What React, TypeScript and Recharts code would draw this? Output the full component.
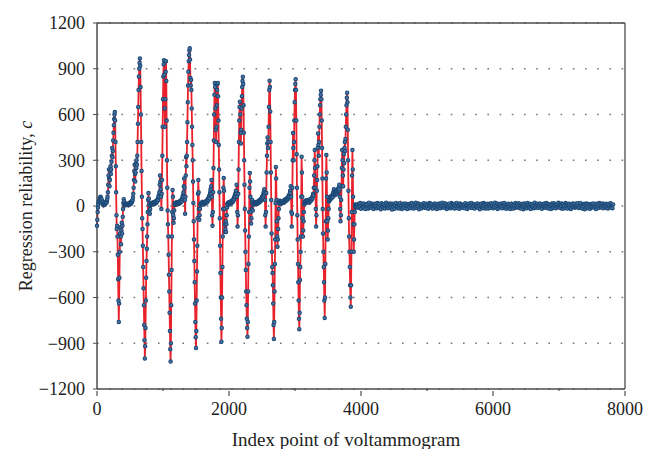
import React from 'react';
import { LineChart, Line, XAxis, YAxis, CartesianGrid, ReferenceLine } from 'recharts';

// Regression reliability sampled every 5 index points over the active part
// of the voltammogram, one array per oxidation/reduction cycle.
const cycle1 = [
  -130, -90, -40, -10, 10, 25, 35, 30, 45, 55, 40, 60, 50, 35, 45, 30, 20, 25, 10, 15,
  5, 12, 8, 15, 10, 20, 18, 25, 30, 22, 35, 45, 60, 90, 140, 200, 240, 180, 130, 170,
  230, 260, 210, 240, 290, 330, 380, 320, 360, 430, 480, 530, 570, 600, 616, 560, 420, 260, 90, -60,
  -150, -130, -200, -320, -480, -620, -760, -640, -470, -300, -180, -140, -200, -250, -160, -110, -180, -130, -70, -20,
  20, 45, 30, 10, 15, 5, 12, 8, 14, 10, 6, 15, 10, 12,
];
const cycle2 = [
  10, 5, 15, 8, 12, 20, 14, 18, 25, 15, 22, 30, 26, 35, 40, 55, 80, 120, 170, 230,
  270, 210, 160, 220, 280, 250, 300, 270, 330, 420, 540, 650, 760, 850, 900, 940, 968, 920, 780, 600,
  420, 230, 60, -80, -150, -260, -400, -540, -650, -780, -880, -1000, -920, -800, -620, -470, -360, -280, -200, -120,
  -40, 40, 85, 50, 10, -30, -50, -20, 5, 15, 10, 20, 12, 18, 22, 15,
];
const cycle3 = [
  18, 10, 25, 15, 20, 28, 16, 24, 30, 20, 26, 35, 28, 40, 45, 38, 55, 70, 60, 90,
  140, 200, 160, 110, 60, -20, 80, 170, 330, 520, 700, 850, 930, 955, 860, 640, 520, 700, 880, 950,
  820, 560, 300, 120, -30, -120, -200, -320, -450, -560, -700, -820, -940, -1020, -900, -650, -420, -200, -40, 105,
  60, -60, -110, -80, -30, 10, 20, 8, 15, 22, 12, 18, 25, 14,
];
const cycle4 = [
  20, 12, 18, 26, 15, 22, 30, 20, 28, 35, 25, 32, 40, 30, 45, 55, 70, 60, 90, 130,
  180, 120, 40, -50, 60, 200, 320, 260, 330, 420, 550, 680, 790, 880, 950, 990, 1020, 1034, 960, 840,
  790, 826, 760, 640, 520, 400, 300, 160, 20, -100, -220, -360, -500, -640, -760, -860, -931, -820, -620, -430,
  -260, -80, 80, 170, 90, -20, -90, -60, -20, 10, 5, 15, 22, 12, 18, 25, 15, 20,
];
const cycle5 = [
  14, 22, 10, 18, 26, 16, 24, 30, 20, 28, 35, 25, 38, 30, 42, 50, 40, 55, 65, 50,
  75, 90, 110, 80, 130, 170, 60, -60, -130, -40, 90, 250, 430, 600, 730, 806, 780, 640, 500, 420,
  520, 660, 760, 800, 806, 720, 560, 400, 240, 90, -80, -260, -440, -600, -740, -890, -800, -600, -400, -200,
  -20, 120, 183, 100, -20, -120, -170, -150, -100, -170, -120, -60, -10, 15, 8, 20, 12, 25, 18, 10,
];
const cycle6 = [
  22, 15, 28, 18, 24, 32, 20, 30, 36, 26, 40, 32, 45, 55, 42, 60, 75, 58, 85, 100,
  80, 140, 60, -40, -135, -60, 80, 240, 420, 560, 650, 684, 600, 480, 410, 500, 640, 720, 780, 820,
  848, 800, 660, 480, 300, 140, -20, -160, -300, -420, -560, -650, -740, -800, -857, -760, -560, -380, -200, -40,
  120, 216, 160, 60, -40, -115, -80, -20, 40, 20, -30, 10, 25, 15, 20, 10, 18, 26, 14, 22,
  16, 24,
];
const cycle7 = [
  18, 26, 14, 22, 30, 20, 28, 36, 24, 32, 40, 30, 44, 36, 50, 42, 58, 48, 65, 55,
  75, 90, 70, 110, 85, 40, -60, -135, -40, 85, 220, 330, 410, 450, 380, 420, 520, 650, 760, 822,
  780, 620, 420, 220, 40, -180, -300, -400, -440, -520, -640, -780, -872, -760, -560, -380, -220, 20, 256, 180,
  40, -100, -200, -267, -220, -150, -80, -20, 20, 35, 15, 28, 20, 32, 24, 18, 30, 22, 28, 20,
];
const cycle8 = [
  26, 34, 22, 30, 38, 28, 36, 44, 32, 40, 48, 38, 50, 42, 56, 48, 62, 54, 70, 60,
  80, 100, 85, 130, 60, -40, -135, -50, 120, 300, 478, 380, 300, 420, 560, 680, 760, 800, 831, 760,
  560, 340, 120, -60, -220, -380, -500, -620, -740, -808, -700, -485, -400, -300, -200, 60, 323, 220, 60, -80,
  -200, -160, -100, -40, 10, 30, 18, 26, 34, 22, 30, 38, 26, 34, 28, 40, 30, 36,
];
const cycle9 = [
  30, 22, 34, 42, 30, 38, 46, 36, 50, 44, 58, 50, 66, 80, 70, 120, 200, 300, 367, 250,
  120, -20, -135, -60, 100, 170, 260, 380, 475, 400, 330, 420, 520, 600, 660, 700, 730, 756, 700, 560,
  380, 180, -20, -180, -300, -400, -500, -620, -734, -600, -380, -100, 180, 334, 220, 60, -100, -220, -160, -80,
  -20, 30, 50, 38, 56, 44, 60, 48, 66, 54, 62, 70, 58, 76, 90, 80, 110, 95,
];
const cycle10 = [
  85, 70, 92, 78, 100, 86, 95, 80, 105, 90, 110, 95, 120, 100, 140, 110, 60, -20, -100, -60,
  40, 130, 250, 367, 300, 200, 130, 240, 340, 280, 380, 420, 360, 440, 520, 600, 660, 710, 743, 680,
  500, 300, 100, -80, -200, -300, -400, -520, -600, -660, -520, -300, -40, 200, 367, 240, 60, -120, -300, -220,
  -120, -40, 10, -10, 6, -8, 5, -6, 8, -4,
];

// Quiet tail after the last cycle, sampled every 10 index points.
const baselineNoise = [
  8, -12, 15, -5, 20, -18, 3, 11, -9, 17, -14, 6, -20, 13, -3, 9, -16, 22, -7, 4,
  -11, 16, -2, 10, -19, 7, 14, -8, 1, -15, 19, -6, 12, -13, 5, -21, 18, -4, 9, -10,
  13, -17, 2, 21, -9, 6, -14, 11, -1, 16, -12, 8, -23, 15, -5, 10, -18, 4, 20, -7,
  -3, 12, -16, 7, 18, -11, 1, -20, 14, -6, 9, -13, 17, -2, 5, -19, 11, 3, -8, 15,
  -14, 6, 19, -10, 2, -17, 13, -5, 21, -12, 8, -1, 16, -22, 10, -7, 4, -15, 12, -3,
  18, -9, 7, -13, 15, -4, 11, -18, 3, 20, -6, 14, -11, 1, -16, 9, -2, 17, -10, 6,
  -19, 13, -7, 4, 16, -14, 10, -3, 22, -8, 5, -12, 18, -1, 7, -20, 12, -5, 15, -9,
  2, -15, 19, -6, 11, -10, 8, -17, 14, -2, 20, -13, 3, 9, -18, 16, -4, 10, -11, 5,
  -5, 10, -15, 18, -2, 7, -19, 12, -6, 16, -10, 3, 20, -13, 9, -4, 13, -17, 6, -1,
  -7, 17, -12, 1, 13, -21, 6, 15, -9, 4, -14, 19, -3, 11, -16, 11, -6, 14, -17, 4,
  9, -12, 18, -3, 7, -15, 12, -8, 21, -10, 2, 16, -19, 6, -4, 13, -9, 1, 17, -14,
  8, -2, 19, -11, 5, -18, 10, -6, 15, -1, 12, -20, 3, 14, -7, -16, 9, 4, -13, 20,
  -5, 11, -9, 2, 18, -12, 6, -17, 13, -3, 8, -21, 16, -8, 1, 10, -14, 19, -4, 7,
  -11, 15, -19, 5, 12, -7, 3, -15, 22, -9, 6, -2, 14, -13, 9, -1, 17, -10, 4, -18,
  11, 7, -6, 16, -12, 2, 20, -8, 13, -16, 5, -3, 10, -20, 15, 6, -11, 18, -5, 9,
  -15, 3, 12, -9, 21, -4, 8, -13, 1, 16, -18, 11, -7, 4, -14, 19, -2, 10, -17, 6,
  14, -10, 3, -19, 12, -5, 17, -1, 9, -12, 15, -6, 2, 18, -9, -13, 7, 20, -8, 5,
  -16, 11, -3, 14, -21, 8, -10, 16, 0, -14, 10, 4, -18, 13, -6, 12, -4, 17, -11, 2,
  9, -20, 15, -7, 6, -13, 19, -2, 11, -9, 3, 16, -15, 7, -1, -10, 14, -5, 8, -17,
  13, 1, -12, 18, -3, 6, -14, 10,
];

const ACTIVE_STEP = 5;
const TAIL_START = 3950;
const TAIL_STEP = 10;

const xTicks = [0, 1000, 2000, 3000, 4000, 5000, 6000, 7000, 8000];
const yTicks = [-1200, -900, -600, -300, 0, 300, 600, 900, 1200];

const activeCycles = [cycle1, cycle2, cycle3, cycle4, cycle5, cycle6, cycle7, cycle8, cycle9, cycle10];

const data = [
  ...activeCycles.flat().map((c, i) => ({ idx: i * ACTIVE_STEP, c })),
  ...baselineNoise.map((c, i) => ({ idx: TAIL_START + i * TAIL_STEP, c })),
];

const FONT = '"Liberation Serif", "DejaVu Serif", serif';
const AXIS = '#4d4d4d';

const fmtY = (v: number) => (v < 0 ? `\u2212${-v}` : `${v}`);

const XTick = (props: any) => {
  const { x, y, payload } = props;
  const major = payload.value % 2000 === 0;
  return (
    <g>
      <line x1={x} x2={x} y1={major ? y : y - 3} y2={major ? y + 5 : y} stroke={AXIS} strokeWidth={1.2} />
      {major && (
        <text x={x} y={y + 24} textAnchor="middle" fontFamily={FONT} fontSize={18} fill="#222">
          {payload.value}
        </text>
      )}
    </g>
  );
};

const YLabel = () => (
  <text
    x={28}
    y={206}
    transform="rotate(-90 28 206)"
    textAnchor="middle"
    dominantBaseline="middle"
    fontFamily={FONT}
    fontSize={18}
    fill="#222"
  >
    Regression reliability, <tspan fontStyle="italic">c</tspan>
  </text>
);

const XLabel = () => (
  <text x={346} y={446} textAnchor="middle" fontFamily={FONT} fontSize={19} fill="#222">
    Index point of voltammogram
  </text>
);

export default function App() {
  return (
    <div style={{ position: 'absolute', left: 0, top: 0, background: '#fff' }}>
      <LineChart width={647} height={449} data={data} margin={{ top: 23, right: 22, bottom: 30, left: 0 }}>
        <CartesianGrid vertical={false} stroke="#777" strokeDasharray="1.6 10.6" strokeWidth={1.3} />
        <XAxis
          dataKey="idx"
          type="number"
          domain={[0, 8000]}
          ticks={xTicks}
          interval={0}
          height={30}
          tickLine={false}
          tickSize={0}
          tick={<XTick />}
          axisLine={{ stroke: AXIS, strokeWidth: 1.5 }}
          label={{ content: () => <XLabel /> }}
        />
        <YAxis
          type="number"
          domain={[-1200, 1200]}
          ticks={yTicks}
          interval={0}
          width={97}
          tickSize={4}
          tickMargin={8}
          tickFormatter={fmtY}
          tick={{ fontFamily: FONT, fontSize: 18, fill: '#222' }}
          tickLine={{ stroke: AXIS }}
          axisLine={{ stroke: AXIS, strokeWidth: 1.5 }}
          allowDataOverflow
          label={{ content: () => <YLabel /> }}
        />
        <ReferenceLine y={1200} stroke={AXIS} strokeWidth={1.3} />
        <ReferenceLine x={8000} stroke={AXIS} strokeWidth={1.3} />
        <Line
          dataKey="c"
          type="linear"
          stroke="#e8212b"
          strokeWidth={1.8}
          isAnimationActive={false}
          dot={{ r: 1.7, stroke: '#1c4a78', strokeWidth: 1.1, fill: '#4f77a2' }}
          activeDot={false}
        />
      </LineChart>
    </div>
  );
}
